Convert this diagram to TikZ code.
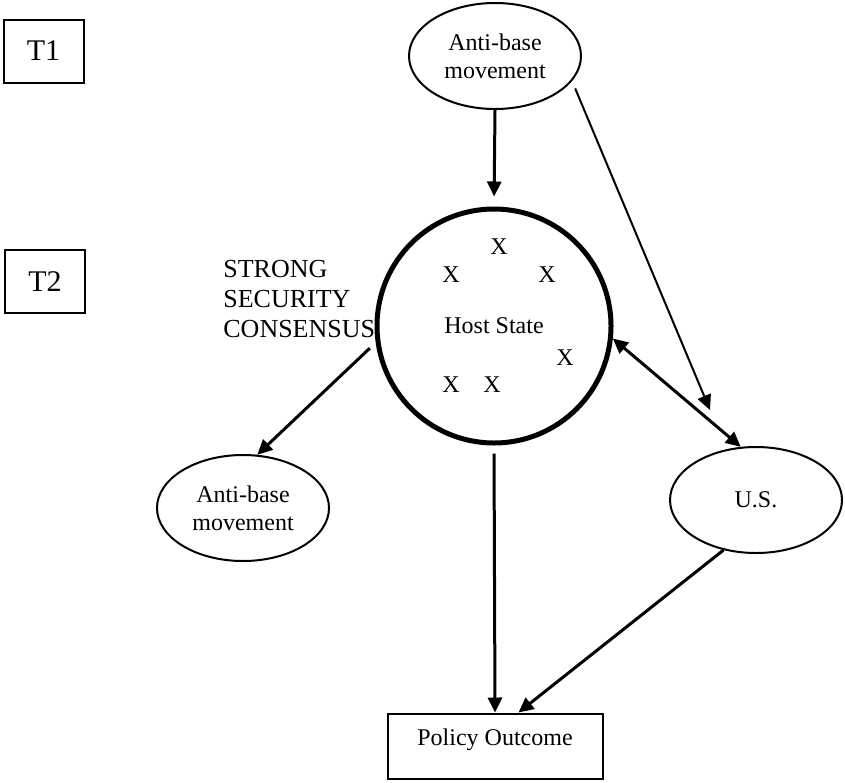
\documentclass[tikz,border=0pt]{standalone}
\usepackage{fontspec}
\setmainfont{Liberation Serif}
\usetikzlibrary{shapes, arrows.meta}
\tikzstyle{oval} = [ellipse, draw, line width=1pt, text centered, align=center, inner sep=0pt, minimum width=86pt, minimum height=53pt, font=\fontsize{12}{14}\selectfont]
\tikzstyle{hostcircle} = [circle, draw, line width=2.5pt, text centered, inner sep=0pt, minimum size=117pt, font=\fontsize{12}{14}\selectfont]
\tikzstyle{box} = [rectangle, draw, line width=1pt, text centered, inner sep=0pt]
\tikzstyle{xmark} = [inner sep=0pt, font=\fontsize{12}{14}\selectfont]
\tikzstyle{line} = [draw, line width=1.5pt, -{Triangle[length=7.5pt,width=7pt]}]
\tikzstyle{thinline} = [draw, line width=1pt, -{Triangle[length=7.5pt,width=7pt]}]
\tikzstyle{twoway} = [draw, line width=1.5pt, {Triangle[length=7.5pt,width=7pt]}-{Triangle[length=7.5pt,width=7pt]}]

\begin{document}
\begin{tikzpicture}[x=0.5pt, y=-0.5pt]
    \useasboundingbox (0,0) rectangle (845,782);

    \node [box, minimum width=40pt, minimum height=31.5pt, font=\fontsize{15}{18}\selectfont] (t1) at (43.5,51) {T1};
    \node [box, minimum width=40pt, minimum height=31.5pt, font=\fontsize{15}{18}\selectfont] (t2) at (45,281.5) {T2};

    \node [oval] (base_top) at (495,56) {Anti-base\\movement};
    \node [hostcircle] (host) at (494,326) {Host State};
    \node [oval] (base_low) at (243,508) {Anti-base\\movement};
    \node [oval] (us) at (756,500) {U.S.};
    \node [box, minimum width=107.5pt, minimum height=32.5pt, text height=16pt, text depth=16.5pt, font=\fontsize{12}{14}\selectfont] (policy) at (495,746) {Policy Outcome};
    \node [anchor=base west, align=left, inner sep=0pt, font=\fontsize{13}{15}\selectfont] (consensus) at (223,337) {STRONG\\SECURITY\\CONSENSUS};

    % members of the host state
    \foreach \i/\xa/\ya in {1/499/247, 2/451/275, 3/547/275, 4/565/358, 5/451/385, 6/492/385}
        \node [xmark] (x\i) at (\xa,\ya) {X};

    \coordinate (us_tip) at (710,410);

    \path [line, shorten >=5pt] (base_top.south) -- (host.north);
    \path [thinline, shorten <=4pt] (base_top.-18) -- (us_tip);
    \path [twoway] (host.-6) -- (us.106);
    \path [line, shorten <=4pt] (host.188) -- (base_low.75);
    \path [line, shorten <=4pt] (host.south) -- (policy.north);
    \path [line] (us.237.6) -- (policy.55);

\end{tikzpicture}
\end{document}
